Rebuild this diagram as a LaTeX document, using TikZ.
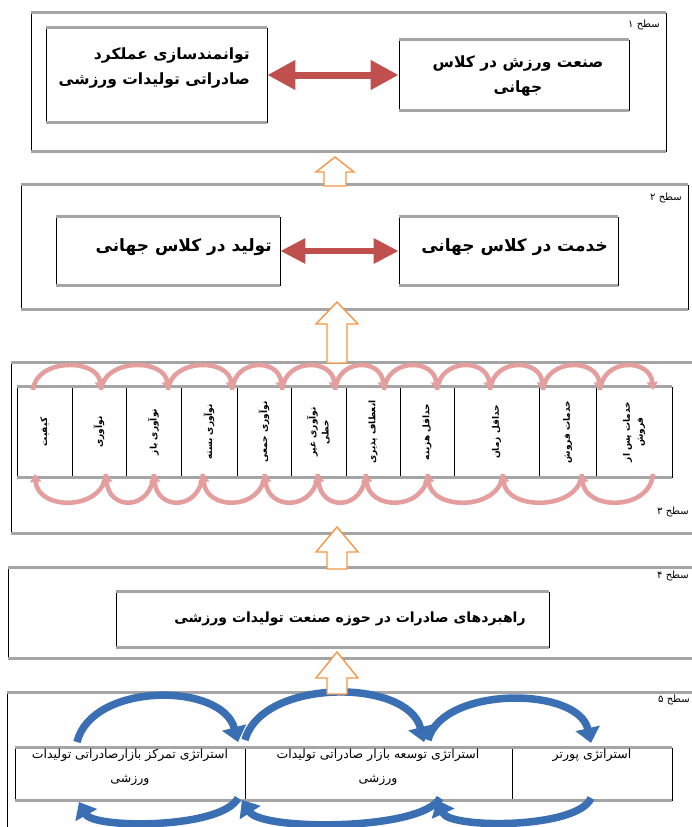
\documentclass[tikz,border=0pt]{standalone}
\usepackage{fontspec}
\newfontfamily\fa[Script=Arabic]{DejaVu Sans}
\TeXXeTstate=1
\usetikzlibrary{arrows.meta}
\definecolor{redarrow}{HTML}{C0504D}
\definecolor{pinkarc}{HTML}{E59E9E}
\definecolor{orangeline}{HTML}{F79646}
\definecolor{bluearc}{HTML}{3A70B3}
\definecolor{edgegray}{HTML}{A5A5A5}
\newcommand{\pers}[1]{\beginR #1\endR}
\newcommand{\grayedges}[1]{%
  \draw[grayedge] (#1.north west) -- (#1.north east);
  \draw[grayedge] (#1.south west) -- (#1.south east);}
\newcommand{\hollowup}[7]{% name, x, tip, headbase, base, halfstem, halfhead
  \draw[hollowarrow] (#2,#3) coordinate (#1) -- (#2+#7,#4) -- (#2+#6,#4) -- (#2+#6,#5)
    -- (#2-#6,#5) -- (#2-#6,#4) -- (#2-#7,#4) -- cycle;}
\tikzset{
  frame/.style={draw=black, line width=0.7pt, inner sep=0pt, fill=white},
  grayedge/.style={draw=edgegray, line width=2.4pt},
  bigtext/.style={font=\fa\bfseries\fontsize{15.5}{25}\selectfont, align=right, inner sep=0pt},
  bigtextb/.style={font=\fa\bfseries\fontsize{17}{25}\selectfont, inner sep=0pt},
  midtext/.style={font=\fa\bfseries\fontsize{14}{18}\selectfont, align=center, inner sep=0pt},
  smalltext/.style={font=\fa\fontsize{12.5}{24}\selectfont, align=center, inner sep=0pt},
  vtext/.style={font=\fa\bfseries\fontsize{9}{13}\selectfont, align=center, inner sep=0pt, rotate=90},
  lvl/.style={font=\fa\fontsize{10}{12}\selectfont, inner sep=0pt},
  redarr/.style={draw=redarrow, line width=7pt, {Triangle[length=28pt,width=28pt]}-{Triangle[length=28pt,width=28pt]}},
  hollowarrow/.style={draw=orangeline, line width=1.4pt, fill=white, line join=miter},
  pinkarr/.style={draw=pinkarc, line width=4.5pt, -{Triangle[length=8pt,width=11pt]}},
  bluearr/.style={draw=bluearc, line width=7.5pt, -{Triangle[length=15pt,width=24pt]}},
}
\begin{document}
\begin{tikzpicture}[x=1pt,y=-1pt]
\useasboundingbox (0,0) rectangle (692,827);
\fill[white] (0,0) rectangle (692,827);

% ---------------- Level 1 ----------------
\node[frame, minimum width=635pt, minimum height=138pt] (L1) at (348.5,82) {};
\grayedges{L1}
\node[lvl, anchor=east] (lab1) at (660,25) {\pers{سطح ۱}};
\node[frame, minimum width=221pt, minimum height=94pt] (A1) at (156.5,75) {};
\grayedges{A1}
\node[bigtext, anchor=east] (tA1) at (250,68) {\pers{توانمندسازی عملکرد}\\\pers{صادراتی تولیدات ورزشی}};
\node[frame, minimum width=230pt, minimum height=70pt] (B1) at (514,75) {};
\grayedges{B1}
\node[bigtext, align=center] (tB1) at (518,76) {\pers{صنعت ورزش در کلاس}\\\pers{جهانی}};
\draw[redarr] (A1.east) -- (B1.west);

% ---------------- Level 2 ----------------
\node[frame, minimum width=667pt, minimum height=124pt] (L2) at (354.5,247) {};
\grayedges{L2}
\node[lvl, anchor=east] (lab2) at (682,198) {\pers{سطح ۲}};
\node[frame, minimum width=224pt, minimum height=68pt] (A2) at (168,251) {};
\grayedges{A2}
\node[bigtextb, anchor=east] (tA2) at (272,247) {\pers{تولید در کلاس جهانی}};
\node[frame, minimum width=219pt, minimum height=68pt] (B2) at (508.5,251) {};
\grayedges{B2}
\node[bigtextb, anchor=east] (tB2) at (608,247) {\pers{خدمت در کلاس جهانی}};
\draw[redarr, line width=6pt, {Triangle[length=25pt,width=24pt]}-{Triangle[length=25pt,width=24pt]}] (A2.east) -- (B2.west);

% ---------------- Level 3 ----------------
\node[frame, minimum width=689pt, minimum height=170pt] (L3) at (355.5,448) {};
\grayedges{L3}
\node[lvl, anchor=east] (lab3) at (689,512) {\pers{سطح ۳}};
\foreach \c/\w [count=\i] in {44.5/55, 99/54, 153.5/55, 209/56, 264/54, 318.5/55, 373/54, 427/54, 496.5/85, 567.5/57, 634/76}{
  \node[frame, minimum width=\w pt, minimum height=90pt] (C\i) at (\c,432) {};
}
\draw[grayedge] (C1.north west) -- (C11.north east);
\draw[grayedge] (C1.south west) -- (C11.south east);
\node[vtext] (v1) at (C1) {\pers{کیفیت}};
\node[vtext] (v2) at (C2) {\pers{نوآوری}};
\node[vtext] (v3) at (C3) {\pers{نوآوری باز}};
\node[vtext] (v4) at (C4) {\pers{نوآوری بسته}};
\node[vtext] (v5) at (C5) {\pers{نوآوری جمعی}};
\node[vtext] (v6) at (C6) {\pers{نوآوری غیر}\\\pers{خطی}};
\node[vtext] (v7) at (C7) {\pers{انعطاف پذیری}};
\node[vtext] (v8) at (C8) {\pers{حداقل هزینه}};
\node[vtext] (v9) at (C9) {\pers{حداقل زمان}};
\node[vtext] (v10) at (C10) {\pers{خدمات فروش}};
\node[vtext] (v11) at (C11) {\pers{خدمات پس از}\\\pers{فروش}};
% pink arcs on top (left to right)
\foreach \a/\b [count=\i] in {33/101, 101/168, 168/232, 232/282, 282/335, 335/384, 384/437, 437/490, 490/543, 543/600, 600/653}{
  \coordinate (ts\i) at (\a,390);
  \coordinate (te\i) at (\b,390);
  \draw[pinkarr] (ts\i) .. controls (\a+3,358) and (\b-3,358) .. (te\i);
}
% pink arcs below (right to left)
\foreach \a/\b [count=\i] in {35/106, 106/154, 154/203, 203/265, 265/318, 318/366, 366/428, 428/503, 503/582, 582/653}{
  \coordinate (bs\i) at (\b,474);
  \coordinate (be\i) at (\a,474);
  \draw[pinkarr] (bs\i) .. controls (\b-3,511) and (\a+3,511) .. (be\i);
}

% ---------------- Level 4 ----------------
\node[frame, minimum width=692pt, minimum height=90pt] (L4) at (354,613) {};
\grayedges{L4}
\node[lvl, anchor=east] (lab4) at (689,576) {\pers{سطح ۴}};
\node[frame, minimum width=433pt, minimum height=55pt] (A4) at (332.5,619.5) {};
\grayedges{A4}
\node[midtext] (tA4) at (350,619) {\pers{راهبردهای صادرات در حوزه صنعت تولیدات ورزشی}};

% ---------------- Level 5 ----------------
\node[frame, minimum width=693pt, minimum height=157pt] (L5) at (353.5,771.5) {};
\grayedges{L5}
\node[lvl, anchor=east] (lab5) at (690,700) {\pers{سطح ۵}};
\node[frame, minimum width=230pt, minimum height=52pt] (F1) at (130,774) {};
\node[frame, minimum width=267pt, minimum height=52pt] (F2) at (378.5,774) {};
\node[frame, minimum width=160pt, minimum height=52pt] (F3) at (592,774) {};
\draw[grayedge] (F1.north west) -- (F3.north east);
\draw[grayedge] (F1.south west) -- (F3.south east);
% blue arcs
\coordinate (u1s) at (77,742);  \coordinate (u1e) at (238,742);
\coordinate (u2s) at (245,740); \coordinate (u2e) at (424,742);
\coordinate (u3s) at (428,740); \coordinate (u3e) at (591,743);
\coordinate (d1s) at (591,798); \coordinate (d1e) at (437,800);
\coordinate (d2s) at (440,798); \coordinate (d2e) at (242,800);
\coordinate (d3s) at (238,798); \coordinate (d3e) at (79,802);
\draw[bluearr] (u1s) .. controls (92,682) and (222,682) .. (u1e);
\draw[bluearr] (u2s) .. controls (262,678) and (408,678) .. (u2e);
\draw[bluearr] (u3s) .. controls (442,686) and (578,686) .. (u3e);
\draw[bluearr] (d1s) .. controls (578,829) and (450,829) .. (d1e);
\draw[bluearr] (d2s) .. controls (422,831) and (262,831) .. (d2e);
\draw[bluearr] (d3s) .. controls (222,829) and (94,829) .. (d3e);
\node[smalltext, anchor=north] (tF1) at (130,749) {\pers{استراتژی تمرکز بازارصادراتی تولیدات}\\\pers{ورزشی}};
\node[smalltext, anchor=north] (tF2) at (378,749) {\pers{استراتژی توسعه بازار صادراتی تولیدات}\\\pers{ورزشی}};
\node[smalltext, anchor=north] (tF3) at (592,749) {\pers{استراتژی پورتر}};

% ---------------- orange hollow arrows ----------------
\hollowup{o1}{335}{157}{172}{186}{11}{19}
\hollowup{o2}{337}{302}{324}{363}{10}{21}
\hollowup{o3}{337}{527}{552}{569}{10}{21}
\hollowup{o4}{337}{652}{678}{694}{10}{21}
\end{tikzpicture}
\end{document}
